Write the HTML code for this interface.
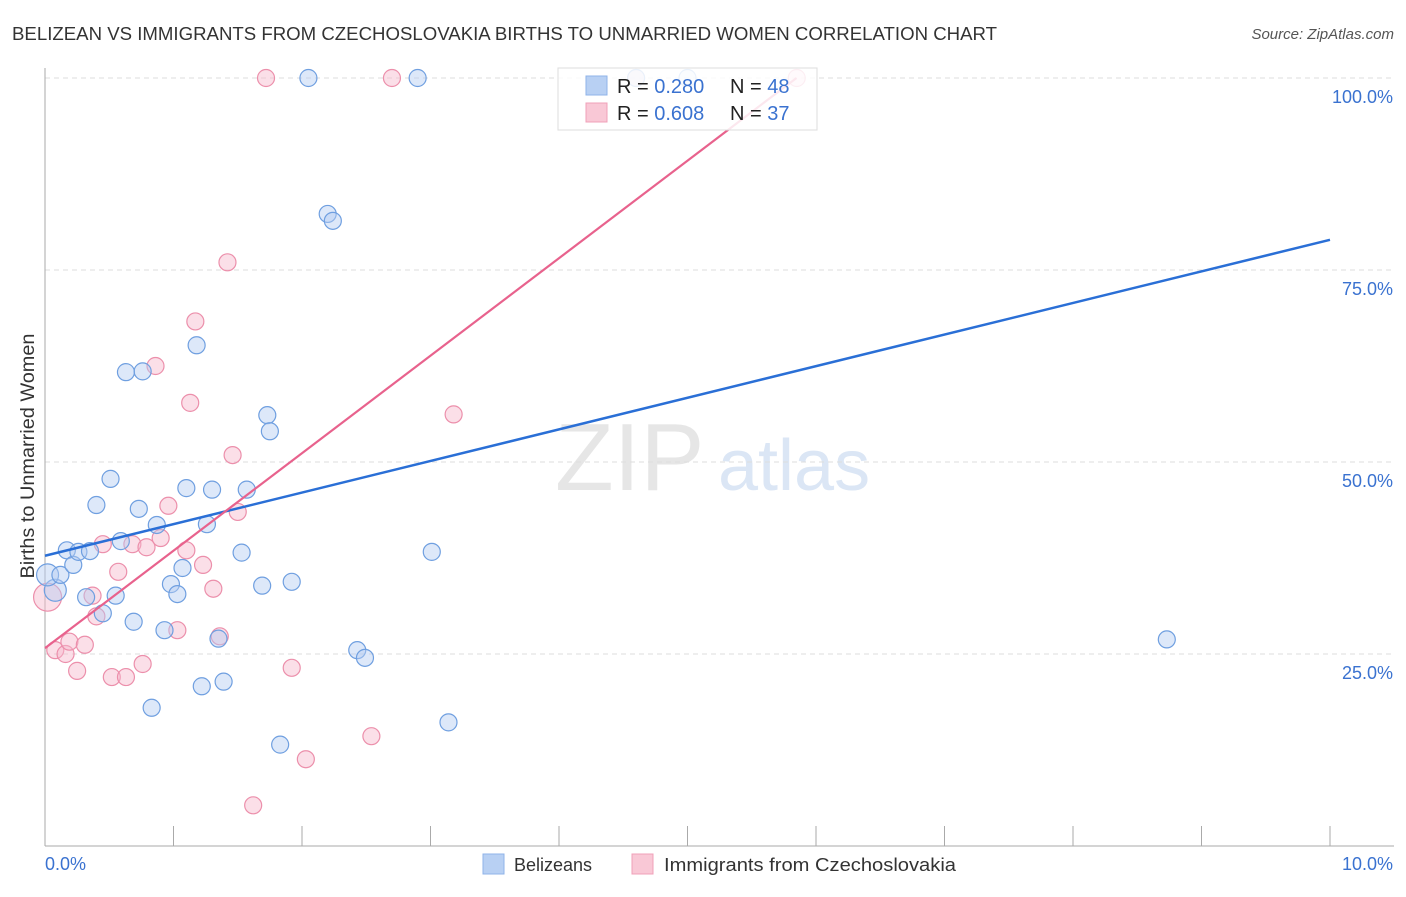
<!DOCTYPE html>
<html><head><meta charset="utf-8"><style>
body{margin:0;background:#fff;font-family:"Liberation Sans",sans-serif;}
svg text{font-family:"Liberation Sans",sans-serif;}
</style></head><body>
<svg id="chart" width="1406" height="892" xmlns="http://www.w3.org/2000/svg">
<text x="12" y="40" font-size="18" fill="#333" textLength="985" lengthAdjust="spacingAndGlyphs">BELIZEAN VS IMMIGRANTS FROM CZECHOSLOVAKIA BIRTHS TO UNMARRIED WOMEN CORRELATION CHART</text>
<text x="1394" y="39" font-size="15" fill="#555" font-style="italic" text-anchor="end">Source: ZipAtlas.com</text>
<text x="555" y="490" font-size="96" fill="#e6e6e6" font-family="Liberation Serif">ZIP</text>
<text x="718" y="490" font-size="72" fill="#dbe6f5">atlas</text>
<g id="grid"></g>
<g id="axes"></g>
<g id="pts"></g>
<g id="trends"></g>
<text transform="translate(34,456) rotate(-90)" font-size="19" fill="#333" text-anchor="middle" textLength="245" lengthAdjust="spacingAndGlyphs">Births to Unmarried Women</text>
<text x="45" y="870" font-size="18" fill="#3a72d0">0.0%</text>
<text x="1393" y="870" font-size="18" fill="#3a72d0" text-anchor="end">10.0%</text>
<g>
<rect x="558" y="68" width="259" height="62" fill="#fff" fill-opacity="0.85" stroke="#ddd"/>
<rect x="586" y="76" width="21" height="19" fill="#b8d0f3" stroke="#8fb3e8"/>
<rect x="586" y="103" width="21" height="19" fill="#f9c8d6" stroke="#f0a0b8"/>
<text x="617" y="93" font-size="20" fill="#222">R = <tspan fill="#3a72d0">0.280</tspan></text>
<text x="730" y="93" font-size="20" fill="#222">N = <tspan fill="#3a72d0">48</tspan></text>
<text x="617" y="120" font-size="20" fill="#222">R = <tspan fill="#3a72d0">0.608</tspan></text>
<text x="730" y="120" font-size="20" fill="#222">N = <tspan fill="#3a72d0">37</tspan></text>
</g>
<g>
<rect x="483" y="854" width="21" height="20" fill="#b8d0f3" stroke="#8fb3e8"/>
<text x="514" y="871" font-size="18" fill="#333">Belizeans</text>
<rect x="632" y="854" width="21" height="20" fill="#f9c8d6" stroke="#f0a0b8"/>
<text x="664" y="871" font-size="18" fill="#333" textLength="292" lengthAdjust="spacingAndGlyphs">Immigrants from Czechoslovakia</text>
</g>
</svg>
<script>
const yTicks=[25,50,75,100];
const blueX=[0.08,0.02,0.12,0.17,0.22,0.26,0.35,0.32,0.40,0.45,0.51,0.55,0.59,0.63,0.69,0.73,0.76,0.83,0.87,0.93,0.98,1.03,1.07,1.10,1.18,1.22,1.26,1.30,1.35,1.39,1.53,1.57,1.69,1.73,1.75,1.83,1.92,2.05,2.20,2.24,2.43,2.49,2.90,3.01,3.14,8.73,4.60,5.00];
const blueY=[33.3,35.3,35.3,38.5,36.6,38.3,38.4,32.4,44.4,30.3,47.8,32.6,39.7,61.7,29.2,43.9,61.8,18.0,41.8,28.1,34.1,32.8,36.2,46.6,65.2,20.8,41.9,46.4,27.0,21.4,38.2,46.4,33.9,56.1,54.0,13.2,34.4,100,82.3,81.4,25.5,24.5,100,38.3,16.1,26.9,100,100];
const pinkX=[0.02,0.08,0.16,0.19,0.25,0.31,0.37,0.40,0.45,0.52,0.57,0.63,0.68,0.76,0.79,0.86,0.90,0.96,1.03,1.10,1.13,1.17,1.23,1.31,1.36,1.42,1.46,1.50,1.62,1.72,1.92,2.03,2.54,2.70,3.18,4.60,5.85];
const pinkY=[32.4,25.5,25.0,26.6,22.8,26.2,32.6,29.9,39.3,22.0,35.7,22.0,39.3,23.7,38.9,62.5,40.1,44.3,28.1,38.5,57.7,68.3,36.6,33.5,27.3,76.0,50.9,43.5,5.3,100,23.2,11.3,14.3,100,56.2,100,100];
const X0=45,X1=1330,Y0=846,Y1=78;
const sx=v=>X0+(X1-X0)*v/10;
const sy=v=>Y0-(Y0-Y1)*v/100;
const NS="http://www.w3.org/2000/svg";
function mk(tag,attrs,parent){const e=document.createElementNS(NS,tag);for(const k in attrs)e.setAttribute(k,attrs[k]);parent.appendChild(e);return e;}
const grid=document.getElementById('grid'),axes=document.getElementById('axes'),pts=document.getElementById('pts'),tr=document.getElementById('trends');
yTicks.forEach(t=>{
 const l=mk('line',{x1:X0,x2:1394,y1:sy(t),y2:sy(t),stroke:'#ddd','stroke-dasharray':'5,4'},grid);
 
 
 const tx=mk('text',{x:1393,y:sy(t)+25,'font-size':18,fill:'#3a72d0','text-anchor':'end'},grid);
 tx.textContent=t.toFixed(1)+'%';
 
 
});
const ya=mk('line',{x1:X0,x2:X0,y1:68,y2:Y0,stroke:'#aaa'},axes);


const xa=mk('line',{x1:X0,x2:1394,y1:Y0,y2:Y0,stroke:'#aaa'},axes);


for(let i=1;i<=10;i++){
 const tk=mk('line',{x1:sx(i),x2:sx(i),y1:826,y2:Y0,stroke:'#aaa'},axes);
 
 
}
function draw(xs,ys,fill,stroke,name){
 xs.forEach((x,i)=>{
  const r=(i===0&&name==='pink-point')?14:(i<2&&name==='blue-point'?11:8.5);
  const c=mk('circle',{cx:sx(x),cy:sy(ys[i]),r:r,fill:fill,'fill-opacity':0.45,stroke:stroke,'stroke-width':1.2},pts);
  
  
 });
}
draw(pinkX,pinkY,'#f7b8cb','#ec8fab','pink-point');
draw(blueX,blueY,'#b3cdf2','#6f9fe0','blue-point');
function fit(xs,ys){const n=xs.length;let mx=0,my=0;xs.forEach((x,i)=>{mx+=x;my+=ys[i];});mx/=n;my/=n;let a=0,b=0;xs.forEach((x,i)=>{a+=(x-mx)*(ys[i]-my);b+=(x-mx)*(x-mx);});const s=a/b;return [s,my-s*mx];}
const bf=fit(blueX,blueY);
const bl=mk('line',{x1:sx(0),y1:sy(bf[1]),x2:sx(10),y2:sy(bf[1]+bf[0]*10),stroke:'#2a6fd6','stroke-width':2.5},tr);


const pf=fit(pinkX,pinkY);
const xe=Math.min(10,(100-pf[1])/pf[0]);
const pl=mk('line',{x1:sx(0),y1:sy(pf[1]),x2:sx(xe),y2:sy(pf[1]+pf[0]*xe),stroke:'#e8628d','stroke-width':2.2},tr);


</script>
</body></html>
